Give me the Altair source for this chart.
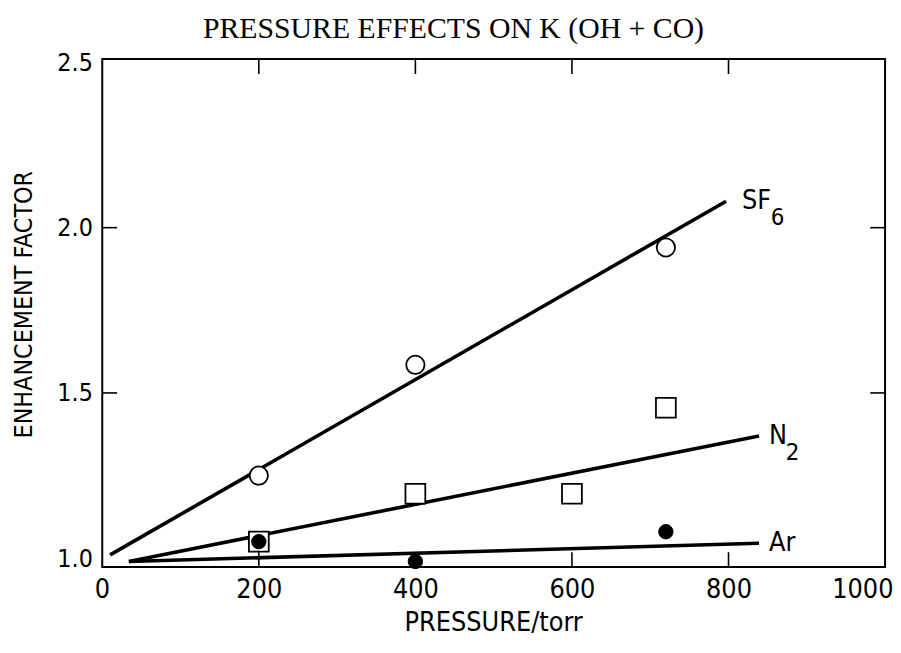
import altair as alt
import pandas as pd

# ---- data ----
series_names = ["SF6", "N2", "Ar"]
line_x_start = [10, 34, 34]
line_y_start = [1.01, 0.99, 0.99]
line_x_end = [797, 839, 839]
line_y_end = [2.08, 1.37, 1.045]

sf6_pressure = [200, 400, 720]
sf6_factor = [1.25, 1.585, 1.94]
n2_pressure = [200, 400, 600, 720]
n2_factor = [1.05, 1.195, 1.195, 1.455]
ar_pressure = [200, 400, 720]
ar_factor = [1.05, 0.99, 1.08]

x_label_values = [0, 200, 400, 600, 800, 1000]
y_label_values = [1.0, 1.5, 2.0, 2.5]
x_inner_ticks = [200, 400, 600, 800]
y_inner_ticks = [1.5, 2.0]

label_main = ["SF", "N", "Ar"]
label_sub = ["6", "2", ""]
chart_title = ["PRESSURE EFFECTS ON K (OH + CO)"]

W, H = 789, 512
LABEL_FONT = "DejaVu Sans Condensed, Liberation Sans Narrow, DejaVu Sans"

lines_df = pd.DataFrame({
    "series": series_names + series_names,
    "pressure": line_x_start + line_x_end,
    "factor": line_y_start + line_y_end,
})
sf6_df = pd.DataFrame({"pressure": sf6_pressure, "factor": sf6_factor})
n2_df = pd.DataFrame({"pressure": n2_pressure, "factor": n2_factor})
ar_df = pd.DataFrame({"pressure": ar_pressure, "factor": ar_factor})
labels_df = pd.DataFrame({
    "series": series_names,
    "pressure": line_x_end,
    "factor": line_y_end,
    "main": label_main,
    "sub": label_sub,
})
xt_df = pd.DataFrame({"v": x_inner_ticks})
yt_df = pd.DataFrame({"v": y_inner_ticks})
title_df = pd.DataFrame({"t": chart_title})

xscale = alt.Scale(domain=[0, 1000], nice=False, zero=False)
yscale = alt.Scale(domain=[0.973, 2.51], nice=False, zero=False)

x_enc = alt.X(
    "pressure:Q", scale=xscale,
    axis=alt.Axis(
        values=x_label_values, format="d", ticks=False, tickSize=0, domain=False, grid=False,
        labelFont=LABEL_FONT, labelFontSize=27, labelColor="black", labelPadding=10,
        labelFlush=True, labelFlushOffset=8,
        title="PRESSURE/torr", titleFont=LABEL_FONT, titleFontSize=27,
        titleFontWeight="normal", titleColor="black",
        titleX=394, titleY=56, titleBaseline="middle", titleAlign="center",
    ),
)
y_enc = alt.Y(
    "factor:Q", scale=yscale,
    axis=alt.Axis(
        values=y_label_values, format=".1f", ticks=False, tickSize=0, domain=False, grid=False,
        labelFont=LABEL_FONT, labelFontSize=25, labelColor="black", labelPadding=10,
        title="ENHANCEMENT FACTOR", titleFont=LABEL_FONT, titleFontSize=25,
        titleFontWeight="normal", titleColor="black",
        titleX=-79, titleY=247, titleAngle=270, titleBaseline="middle", titleAlign="center",
    ),
)

lines = alt.Chart(lines_df).mark_line(color="black", strokeWidth=3.6).encode(
    x=x_enc, y=y_enc, detail="series:N"
)

tick_style = dict(color="black", strokeWidth=1.6)
bottom_ticks = alt.Chart(xt_df).mark_rule(**tick_style).encode(
    x=alt.X("v:Q", scale=xscale), y=alt.value(H), y2=alt.value(H - 15)
)
top_ticks = alt.Chart(xt_df).mark_rule(**tick_style).encode(
    x=alt.X("v:Q", scale=xscale), y=alt.value(0), y2=alt.value(15)
)
left_ticks = alt.Chart(yt_df).mark_rule(**tick_style).encode(
    y=alt.Y("v:Q", scale=yscale), x=alt.value(0), x2=alt.value(15)
)
right_ticks = alt.Chart(yt_df).mark_rule(**tick_style).encode(
    y=alt.Y("v:Q", scale=yscale), x=alt.value(W), x2=alt.value(W - 15)
)

squares = alt.Chart(n2_df).mark_point(
    shape="square", size=400, filled=True, fill="white", stroke="black",
    strokeWidth=1.8, opacity=1,
).encode(x=alt.X("pressure:Q", scale=xscale), y=alt.Y("factor:Q", scale=yscale))

open_circles = alt.Chart(sf6_df).mark_point(
    shape="circle", size=340, filled=True, fill="white", stroke="black",
    strokeWidth=1.8, opacity=1,
).encode(x=alt.X("pressure:Q", scale=xscale), y=alt.Y("factor:Q", scale=yscale))

filled_circles = alt.Chart(ar_df).mark_point(
    shape="circle", size=210, filled=True, fill="black", stroke="black",
    strokeWidth=1, opacity=1,
).encode(x=alt.X("pressure:Q", scale=xscale), y=alt.Y("factor:Q", scale=yscale))


def label_layer(name, dx, text_field, dy, size):
    return alt.Chart(labels_df).transform_filter(
        alt.datum.series == name
    ).mark_text(
        align="left", baseline="middle", dx=dx, dy=dy,
        font=LABEL_FONT, fontSize=size, color="black",
    ).encode(
        x=alt.X("pressure:Q", scale=xscale),
        y=alt.Y("factor:Q", scale=yscale),
        text=f"{text_field}:N",
    )


labels = [
    label_layer("SF6", 16, "main", 0, 27),
    label_layer("SF6", 45, "sub", 17, 24),
    label_layer("N2", 10, "main", 0, 27),
    label_layer("N2", 27, "sub", 17, 24),
    label_layer("Ar", 10, "main", 0, 27),
]

title = alt.Chart(title_df).mark_text(
    align="center", baseline="alphabetic",
    font="Liberation Serif, DejaVu Serif, serif", fontSize=30, color="black",
).encode(x=alt.value(354), y=alt.value(-21), text="t:N")

chart = alt.layer(
    lines, bottom_ticks, top_ticks, left_ticks, right_ticks,
    squares, open_circles, filled_circles, *labels, title
).properties(
    width=W, height=H,
    background="white",
    autosize=alt.AutoSizeParams(type="none"),
    padding={"left": 95, "top": 49, "right": 8, "bottom": 76},
).configure_view(
    stroke="black", strokeWidth=2
)

chart.save("out.html", embed_options={"renderer": "svg", "actions": False})
